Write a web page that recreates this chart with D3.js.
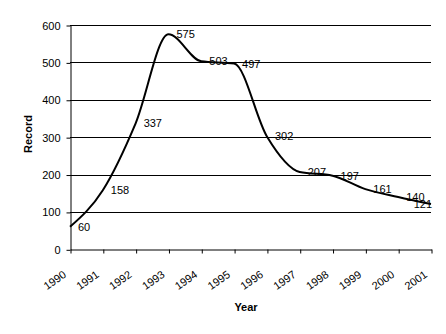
<!DOCTYPE html>
<html>
<head>
<meta charset="utf-8">
<script src="https://cdn.jsdelivr.net/npm/d3@7"></script>
<style>
  html, body { margin: 0; padding: 0; background: #fff; }
  svg { display: block; font-family: "Liberation Sans", Arial, sans-serif; }
</style>
</head>
<body>
<svg id="chart" width="446" height="334"></svg>
<script>
// Yearly record counts
const years = ["1990","1991","1992","1993","1994","1995","1996","1997","1998","1999","2000","2001"];
const records = [60, 158, 337, 575, 503, 497, 302, 207, 197, 161, 140, 121];
const yTicks = [0, 100, 200, 300, 400, 500, 600];
const xTitle = "Year";
const yTitle = "Record";

const svg = d3.select("#chart");
const plot = { left: 70, right: 431, top: 25, bottom: 249.3 };

const x = d3.scalePoint().domain(years).range([plot.left, plot.right]);
const y = d3.scaleLinear().domain([0, 600]).range([plot.bottom, plot.top]);

// horizontal gridlines
svg.append("g")
  .selectAll("line")
  .data(yTicks.filter(d => d > 0))
  .join("line")
  .attr("x1", plot.left).attr("x2", plot.right)
  .attr("y1", d => Math.round(y(d)) + 0.5).attr("y2", d => Math.round(y(d)) + 0.5)
  .attr("stroke", "#000").attr("stroke-width", 1);

// y axis
const yAxis = svg.append("g")
  .attr("transform", `translate(${plot.left + 0.5},0.5)`)
  .call(d3.axisLeft(y).tickValues(yTicks).tickSize(4).tickPadding(6).tickSizeOuter(0));
yAxis.select(".domain").attr("stroke", "#000");
yAxis.selectAll("text").attr("font-size", 11).attr("fill", "#000")
  .attr("font-family", "Liberation Sans, Arial, sans-serif");

// x axis
const xAxis = svg.append("g")
  .attr("transform", `translate(0.5,${Math.round(plot.bottom) + 0.5})`)
  .call(d3.axisBottom(x).tickSize(4).tickSizeOuter(0).tickFormat(""));
xAxis.select(".domain").attr("stroke", "#000");

// rotated year labels
svg.append("g")
  .selectAll("text")
  .data(years)
  .join("text")
  .attr("transform", d => `translate(${x(d) - 3},${plot.bottom + 27}) rotate(-35)`)
  .attr("text-anchor", "end")
  .attr("font-size", 11)
  .attr("fill", "#000")
  .text(d => d);

// smoothed series line
const line = d3.line()
  .x((d, i) => x(years[i]))
  .y(d => y(d))
  .curve(d3.curveMonotoneX);

svg.append("path")
  .datum(records)
  .attr("d", line)
  .attr("fill", "none")
  .attr("stroke", "#000")
  .attr("stroke-width", 2);

// value labels to the right of each point, kept inside the plot
const labels = svg.append("g")
  .selectAll("text")
  .data(records)
  .join("text")
  .attr("x", (d, i) => x(years[i]) + 8)
  .attr("y", d => y(d))
  .attr("dominant-baseline", "central")
  .attr("font-size", 11)
  .attr("fill", "#000")
  .text(d => d);
labels.each(function() {
  const el = d3.select(this);
  const w = this.getComputedTextLength();
  const x0 = +el.attr("x");
  if (x0 + w > plot.right + 1) el.attr("x", plot.right + 1 - w);
});

// axis titles
svg.append("text")
  .attr("x", 246).attr("y", 311)
  .attr("text-anchor", "middle")
  .attr("font-size", 11).attr("font-weight", "bold")
  .text(xTitle);

svg.append("text")
  .attr("transform", `translate(32,134) rotate(-90)`)
  .attr("text-anchor", "middle")
  .attr("font-size", 11).attr("font-weight", "bold")
  .text(yTitle);
</script>
</body>
</html>
